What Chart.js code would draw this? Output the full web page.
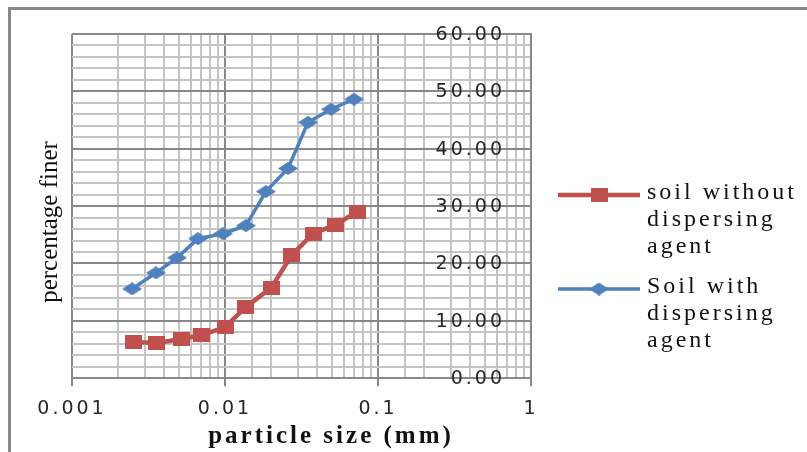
<!DOCTYPE html>
<html>
<head>
<meta charset="utf-8">
<script src="https://cdn.jsdelivr.net/npm/chart.js@4"></script>
<style>
  html, body { margin: 0; padding: 0; background: #fff; }
  canvas { display: block; }
</style>
</head>
<body>
<canvas id="grafico" width="807" height="452"></canvas>
<script>
// particle size (mm) / percentage finer
const tamanoSin = [0.00254, 0.00359, 0.00516, 0.00707, 0.0100, 0.0137, 0.0200, 0.0274, 0.0376, 0.0531, 0.0730];
const finoSin = [6.30, 6.12, 6.82, 7.52, 8.92, 12.42, 15.74, 21.51, 25.19, 26.76, 29.04];
const tamanoCon = [0.00247, 0.00354, 0.00486, 0.00666, 0.00970, 0.0137, 0.0185, 0.0258, 0.0349, 0.0493, 0.0697];
const finoCon = [15.57, 18.37, 20.99, 24.31, 25.19, 26.59, 32.53, 36.56, 44.60, 46.88, 48.63];
const etiquetas = [['soil without', 'dispersing', 'agent'], ['Soil with', 'dispersing', 'agent']];
const tituloX = 'particle size (mm)';
const tituloY = 'percentage finer';
const yMin = 0, yMax = 60, yPaso = 2, yMayor = 10;
const xMin = 0.001, xMax = 1;

const mayor = '#888888';
const menor = '#c4c4c4';
const rojo = '#C0504D';
const azul = '#4F81BD';
const fuenteTicks = '19px "DejaVu Sans"';

function marcador(forma, ancho, alto, color) {
    const c = document.createElement('canvas');
    c.width = ancho; c.height = alto;
    const g = c.getContext('2d');
    g.fillStyle = color;
    if (forma === 'cuadro') {
        g.fillRect(0, 0, ancho, alto);
    } else {
        g.beginPath();
        g.moveTo(ancho / 2, 0); g.lineTo(ancho, alto / 2);
        g.lineTo(ancho / 2, alto); g.lineTo(0, alto / 2);
        g.closePath(); g.fill();
    }
    return c;
}
const cuadro = marcador('cuadro', 17, 14, rojo);
const rombo = marcador('rombo', 20, 13, azul);

const esDecada = v => Math.abs(Math.log10(v) - Math.round(Math.log10(v))) < 1e-6;

const extras = {
    id: 'extras',
    beforeUpdate(chart) { chart.ctx.letterSpacing = '3px'; },
    beforeDraw(chart) { chart.ctx.letterSpacing = '3px'; },
    afterDraw(chart) {
        const g = chart.ctx;
        g.save();
        // marco
        g.strokeStyle = mayor; g.lineWidth = 3;
        g.beginPath(); g.moveTo(9.5, 452); g.lineTo(9.5, 8.5); g.lineTo(807, 8.5); g.stroke();

        g.fillStyle = '#262626';
        g.letterSpacing = '3px';

        // etiquetas del eje y, dentro del area (el eje cruza en x = 1)
        const ejeY = chart.scales.y;
        g.font = fuenteTicks;
        g.textAlign = 'right'; g.textBaseline = 'middle';
        ejeY.ticks.forEach(t => {
            if (t.value % yMayor === 0) g.fillText(t.value.toFixed(2), ejeY.left - 26, ejeY.getPixelForValue(t.value) + 1);
        });

        g.fillStyle = '#111';
        g.textAlign = 'center';
        g.font = 'bold 25px "Liberation Serif"';
        g.fillText(tituloX, 331, 437);

        g.save();
        g.translate(50, 222); g.rotate(-Math.PI / 2);
        g.letterSpacing = '0px';
        g.font = '25px "Liberation Serif"';
        g.fillText(tituloY, 0, 0);
        g.restore();

        // leyenda
        const filas = [195, 289];
        chart.data.datasets.forEach((ds, i) => {
            const y0 = filas[i];
            g.strokeStyle = ds.borderColor; g.lineWidth = ds.borderWidth;
            g.beginPath(); g.moveTo(558, y0); g.lineTo(640, y0); g.stroke();
            const img = ds.pointStyle;
            g.drawImage(img, 599 - img.width / 2, y0 - img.height / 2);
            g.textAlign = 'left';
            g.font = '24px "Liberation Serif"';
            etiquetas[i].forEach((t, k) => g.fillText(t, 647, y0 - 2 + k * 27));
        });
        g.restore();
    }
};

new Chart(document.getElementById('grafico').getContext('2d'), {
    type: 'line',
    data: {
        datasets: [
            {
                label: etiquetas[0].join(' '),
                data: tamanoSin.map((x, i) => ({ x: x, y: finoSin[i] })),
                borderColor: rojo,
                backgroundColor: rojo,
                borderWidth: 4.5,
                pointStyle: cuadro,
                pointRadius: 8
            },
            {
                label: etiquetas[1].join(' '),
                data: tamanoCon.map((x, i) => ({ x: x, y: finoCon[i] })),
                borderColor: azul,
                backgroundColor: azul,
                borderWidth: 3.5,
                pointStyle: rombo,
                pointRadius: 8
            }
        ]
    },
    options: {
        responsive: false,
        animation: false,
        layout: { padding: { left: 72, right: 276, top: 34, bottom: 21 } },
        plugins: { legend: { display: false }, tooltip: { enabled: false } },
        scales: {
            x: {
                type: 'logarithmic',
                min: xMin, max: xMax,
                position: 'bottom',
                border: { display: true, color: mayor, width: 2 },
                grid: {
                    color: c => esDecada(c.tick.value) ? mayor : menor,
                    lineWidth: 2,
                    tickLength: 8,
                    tickWidth: 2,
                    tickColor: c => esDecada(c.tick.value) ? mayor : 'rgba(0,0,0,0)'
                },
                ticks: {
                    autoSkip: false, maxRotation: 0, padding: 11,
                    color: '#262626',
                    font: { family: '"DejaVu Sans"', size: 19 },
                    callback: v => esDecada(v) ? String(Number(v.toPrecision(1))) : ''
                }
            },
            y: {
                position: 'right',
                min: yMin, max: yMax,
                border: { display: true, color: mayor, width: 2 },
                grid: {
                    color: c => c.tick.value % yMayor === 0 ? mayor : menor,
                    lineWidth: 2,
                    drawTicks: false
                },
                ticks: {
                    display: false,
                    autoSkip: false,
                    stepSize: yPaso
                }
            }
        }
    },
    plugins: [extras]
});
</script>
</body>
</html>
